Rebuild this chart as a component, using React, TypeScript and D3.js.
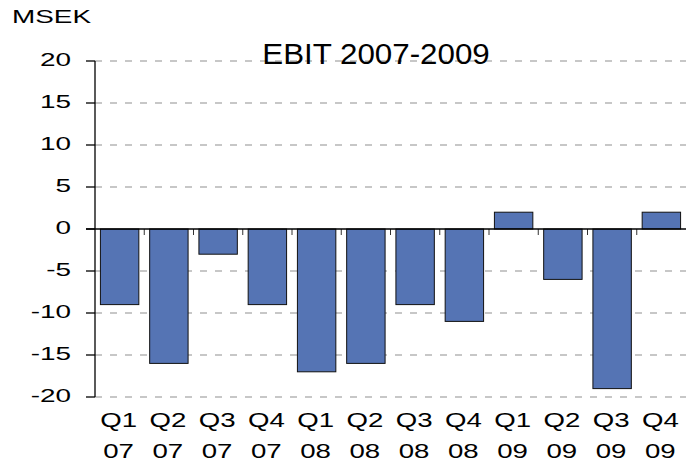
import * as d3 from "d3";

const quarters = ["Q1", "Q2", "Q3", "Q4", "Q1", "Q2", "Q3", "Q4", "Q1", "Q2", "Q3", "Q4"];
const years = ["07", "07", "07", "07", "08", "08", "08", "08", "09", "09", "09", "09"];
const ebit = [-9, -16, -3, -9, -17, -16, -9, -11, 2, -6, -19, 2];
const yTicks = [20, 15, 10, 5, 0, -5, -10, -15, -20];

const width = 686;
const height = 468;
const marginLeft = 95;
const plotTop = 61;
const plotBottom = 397;
const font = "'Liberation Sans', Arial, sans-serif";

export default function App() {
  const cats = quarters.map((q, i) => `${q} ${years[i]}`);

  const x = d3
    .scaleBand()
    .domain(cats)
    .range([marginLeft, width])
    .paddingInner(0.22)
    .paddingOuter(0.11);

  const y = d3.scaleLinear().domain([-20, 20]).range([plotBottom, plotTop]);
  const step = (width - marginLeft) / cats.length;

  return (
    <div style={{ position: "absolute", left: 0, top: 0 }}>
      <svg width={width} height={height} style={{ display: "block", background: "#fff" }}>
        {/* gridlines */}
        {yTicks
          .filter((t) => t !== 0)
          .map((t) => (
            <line
              key={"g" + t}
              x1={marginLeft}
              x2={width}
              y1={y(t)}
              y2={y(t)}
              stroke="#b5b5b5"
              strokeWidth={1.3}
              strokeDasharray="7 8"
            />
          ))}

        {/* title */}
        <text
          transform={`translate(376,64) scale(1.08,1)`}
          textAnchor="middle"
          fontFamily={font}
          fontSize={29}
          fill="#000"
        >
          EBIT 2007-2009
        </text>

        {/* bars */}
        {ebit.map((v, i) => (
          <rect
            key={"b" + i}
            x={x(cats[i])!}
            y={y(Math.max(0, v))}
            width={x.bandwidth()}
            height={Math.abs(y(v) - y(0))}
            fill="#5574b4"
            stroke="#111"
            strokeWidth={1}
          />
        ))}

        {/* category ticks on zero line */}
        {cats.slice(1).map((c, i) => (
          <line
            key={"ct" + i}
            x1={marginLeft + (i + 1) * step}
            x2={marginLeft + (i + 1) * step}
            y1={y(0)}
            y2={y(0) + 6}
            stroke="#333"
            strokeWidth={1}
          />
        ))}

        {/* zero line */}
        <line x1={86} x2={width} y1={y(0)} y2={y(0)} stroke="#000" strokeWidth={1.3} />

        {/* y axis */}
        <line x1={marginLeft} x2={marginLeft} y1={plotTop} y2={plotBottom} stroke="#000" strokeWidth={1.3} />
        {yTicks.map((t) => (
          <g key={"yt" + t}>
            <line x1={86} x2={marginLeft} y1={y(t)} y2={y(t)} stroke="#000" strokeWidth={1.3} />
            <text
              transform={`translate(71,${y(t) - 1}) scale(1.55,1)`}
              textAnchor="end"
              dy="0.35em"
              fontFamily={font}
              fontSize={18}
              fill="#000"
            >
              {t}
            </text>
          </g>
        ))}

        {/* x labels */}
        {cats.map((c, i) => {
          const cx = x(c)! + x.bandwidth() / 2 - 1;
          return (
            <g key={"xl" + i}>
              <text
                transform={`translate(${cx},427) scale(1.38,1)`}
                textAnchor="middle"
                fontFamily={font}
                fontSize={20}
                fill="#000"
              >
                {quarters[i]}
              </text>
              <text
                transform={`translate(${cx},458) scale(1.38,1)`}
                textAnchor="middle"
                fontFamily={font}
                fontSize={20}
                fill="#000"
              >
                {years[i]}
              </text>
            </g>
          );
        })}

        {/* unit label */}
        <text
          transform="translate(12,23) scale(1.55,1)"
          fontFamily={font}
          fontSize={18}
          fill="#000"
        >
          MSEK
        </text>
      </svg>
    </div>
  );
}
